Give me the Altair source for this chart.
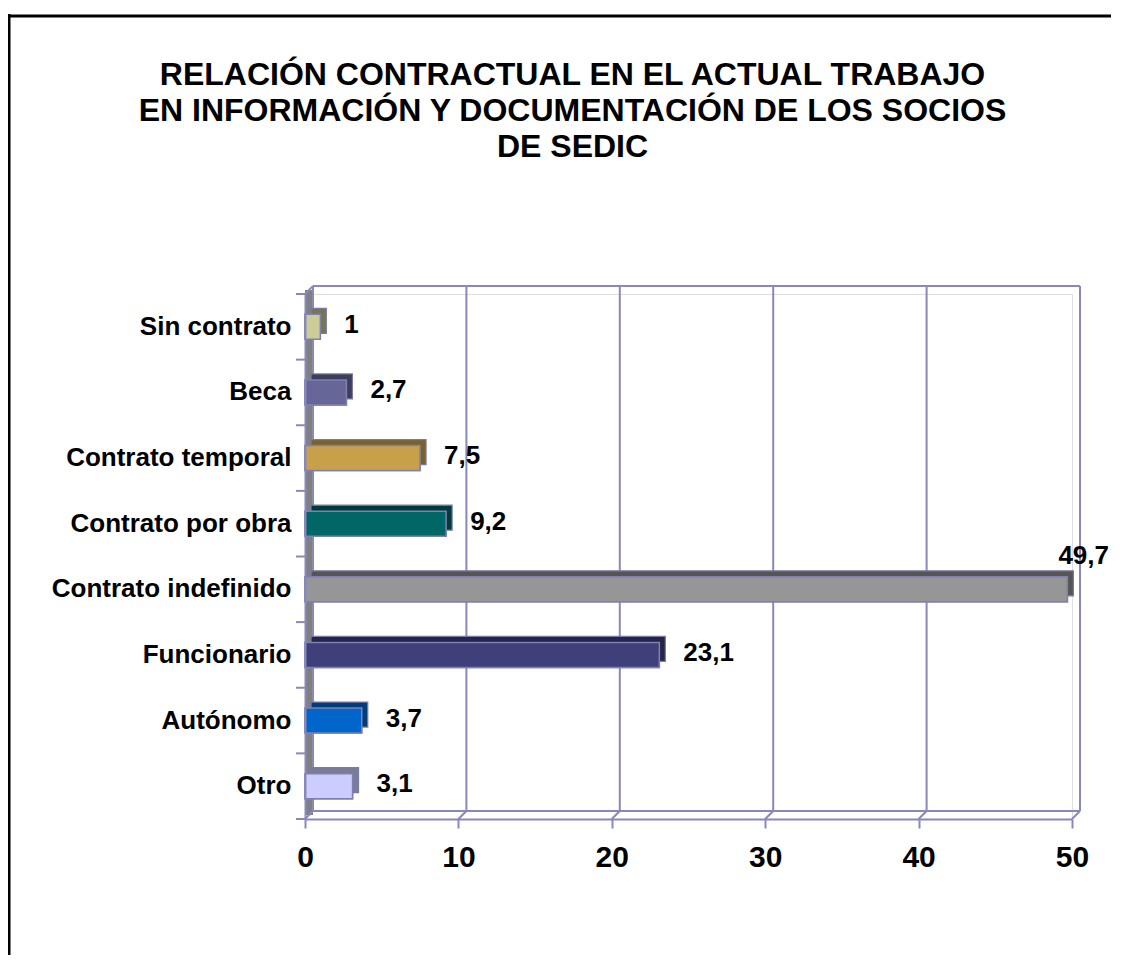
import altair as alt
import pandas as pd

categories = ["Sin contrato", "Beca", "Contrato temporal", "Contrato por obra",
              "Contrato indefinido", "Funcionario", "Autónomo", "Otro"]
values = [1, 2.7, 7.5, 9.2, 49.7, 23.1, 3.7, 3.1]
face_colors = ["#CCCC99", "#666699", "#C9A04A", "#006666",
               "#969696", "#3F3F7A", "#0066CC", "#CCCCFF"]
side_colors = ["#77774F", "#3D3D5C", "#7A6228", "#003B3B",
               "#555555", "#25254A", "#003D7A", "#7A7A99"]
x_ticks = [0, 10, 20, 30, 40, 50]
title_lines = ["RELACIÓN CONTRACTUAL EN EL ACTUAL TRABAJO",
               "EN INFORMACIÓN Y DOCUMENTACIÓN DE LOS SOCIOS",
               "DE SEDIC"]

W, H = 767, 525
D = 8      # depth of the back wall
B = 6      # depth of each bar
LINE = "#8888BB"
FONT = "Liberation Sans"

bars = pd.DataFrame({"cat": categories, "v": values,
                     "face": face_colors, "side": side_colors})
ticks = pd.DataFrame({"v": x_ticks})
one = pd.DataFrame({"a": [0]})

xscale = alt.Scale(domain=[0, 50], nice=False, zero=True)
yscale = alt.Scale(paddingInner=0, paddingOuter=0)

# outer black frame (top and left edges)
frame_top = alt.Chart(one).mark_rule(color="black", strokeWidth=3).encode(
    x=alt.value(-297), x2=alt.value(822), y=alt.value(-278))
frame_left = alt.Chart(one).mark_rule(color="black", strokeWidth=3).encode(
    x=alt.value(-296), y=alt.value(-280), y2=alt.value(665))

# left wall
wall = alt.Chart(one).mark_rect(color="#808080", x2Offset=D).encode(
    x=alt.datum(0, scale=xscale), x2=alt.datum(0),
    y=alt.value(-D / 2), y2=alt.value(H - D / 2))

# back-wall gridlines
grid = alt.Chart(ticks).mark_rule(color=LINE, strokeWidth=2, xOffset=D).encode(
    x=alt.X("v:Q", title=None), y=alt.value(-D), y2=alt.value(H - D))

top_edge = alt.Chart(one).mark_rule(color=LINE, strokeWidth=2, xOffset=D, x2Offset=D).encode(
    x=alt.datum(0), x2=alt.datum(50), y=alt.value(-D))
floor_edge = alt.Chart(one).mark_rule(color=LINE, strokeWidth=2, xOffset=D, x2Offset=D).encode(
    x=alt.datum(0), x2=alt.datum(50), y=alt.value(H - D))
floor_diag = alt.Chart(ticks).mark_rule(color=LINE, strokeWidth=2, xOffset=D, x2Offset=0).encode(
    x=alt.X("v:Q", title=None), x2=alt.X2("v"), y=alt.value(H - D), y2=alt.value(H))
top_diag = alt.Chart(one).mark_rule(color=LINE, strokeWidth=2, xOffset=D, x2Offset=0).encode(
    x=alt.datum(0), x2=alt.datum(0), y=alt.value(-D), y2=alt.value(0))

# y ticks at band boundaries
ytick = alt.Chart(bars).mark_rule(color=LINE, strokeWidth=2).encode(
    y=alt.Y("cat:N", sort=categories, bandPosition=0, title=None),
    x=alt.value(-9), x2=alt.value(0))
ytick_last = alt.Chart(one).mark_rule(color=LINE, strokeWidth=2).encode(
    y=alt.value(H), x=alt.value(-9), x2=alt.value(0))

# bar depth (shadow)
shadow = alt.Chart(bars).mark_bar(size=25, xOffset=B, x2Offset=B, yOffset=-B, y2Offset=-B,
                                  stroke="#7A7AA8", strokeWidth=1.2).encode(
    x=alt.X("v:Q", title=None),
    y=alt.Y("cat:N", sort=categories, title=None),
    color=alt.Color("side:N", scale=None))

front = alt.Chart(bars).mark_bar(size=25, stroke="#8080B0", strokeWidth=1.5).encode(
    x=alt.X("v:Q", scale=xscale,
            axis=alt.Axis(values=x_ticks, title=None, grid=False, labelFlush=False,
                          labelFontSize=30, labelFontWeight="bold", labelFont=FONT,
                          labelColor="black", labelPadding=14,
                          tickSize=9, tickWidth=2, tickColor=LINE,
                          domainColor=LINE, domainWidth=2, zindex=1)),
    y=alt.Y("cat:N", sort=categories, scale=yscale,
            axis=alt.Axis(title=None, ticks=False, grid=False,
                          labelFontSize=26, labelFontWeight="bold", labelFont=FONT,
                          labelColor="black", labelPadding=14, labelLimit=400,
                          domainColor=LINE, domainWidth=2, zindex=1)),
    color=alt.Color("face:N", scale=None))

lab_base = alt.Chart(bars).transform_calculate(
    lab="replace(toString(datum.v), '.', ',')")
labels_small = lab_base.transform_filter("datum.v < 40").mark_text(
    align="left", baseline="middle", dx=24, dy=-2, fontSize=26, fontWeight="bold",
    font=FONT, color="black").encode(
    x=alt.X("v:Q", title=None), y=alt.Y("cat:N", sort=categories, title=None),
    text="lab:N")
labels_big = lab_base.transform_filter("datum.v >= 40").mark_text(
    align="left", baseline="middle", dx=-9, dy=-33, fontSize=26, fontWeight="bold",
    font=FONT, color="black").encode(
    x=alt.X("v:Q", title=None), y=alt.Y("cat:N", sort=categories, title=None),
    text="lab:N")

chart = alt.layer(
    frame_top, frame_left, wall, grid, top_edge, floor_edge, floor_diag, top_diag,
    ytick, ytick_last, front, shadow, front, labels_small, labels_big
).properties(
    width=W, height=H,
    autosize=alt.AutoSizeParams(type="none"),
    padding={"left": 297, "top": 286, "right": 39, "bottom": 136},
    title=alt.TitleParams(text=title_lines, fontSize=32, font=FONT, fontWeight="bold",
                          color="black", anchor="middle", frame="group",
                          dx=-116, offset=-151, lineHeight=36),
).configure_view(stroke=None).configure(background="white")

chart.save("out.html", embed_options={"renderer": "svg", "actions": False})
